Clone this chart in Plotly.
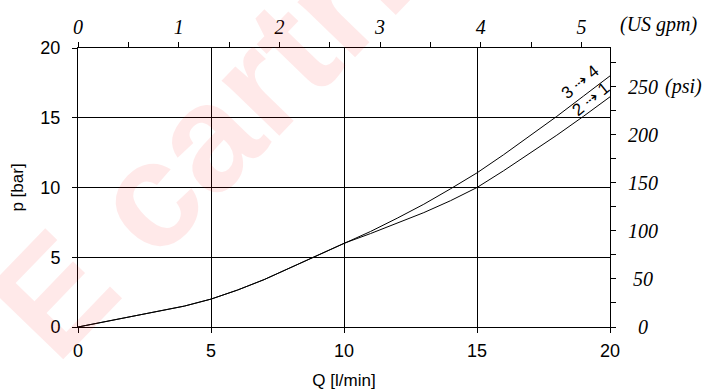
import plotly.graph_objects as go

# Flow Q [l/min] and pressure drop p [bar]
q_common = [0, 1, 2, 3, 4, 5, 6, 7, 8, 9, 10]
p_common = [0, 0.38, 0.75, 1.1, 1.5, 2.0, 2.65, 3.4, 4.25, 5.1, 6.0]

q_34 = [11, 12, 13, 14, 15, 16, 17, 18, 19, 20]
p_34 = [6.85, 7.8, 8.8, 9.9, 11.05, 12.35, 13.7, 15.1, 16.55, 18.0]

q_21 = [11, 12, 13, 14, 15, 16, 17, 18, 19, 20]
p_21 = [6.7, 7.45, 8.2, 9.05, 10.0, 11.2, 12.45, 13.75, 15.1, 16.5]

curve_labels = ["3 \u21e2 4", "2 \u21e2 1"]

x_ticks = [0, 5, 10, 15, 20]
y_ticks = [0, 5, 10, 15, 20]
gpm_ticks = [0, 1, 2, 3, 4, 5]
psi_ticks = [0, 50, 100, 150, 200, 250]

LPM_PER_GPM = 3.78541
PSI_PER_BAR = 14.5038

sans = "Liberation Sans, Arial, sans-serif"
serif = "Liberation Serif, Times New Roman, serif"

fig = go.Figure()
fig.add_trace(go.Scatter(x=q_common + q_34, y=p_common + p_34, mode="lines",
                         line=dict(color="black", width=1), showlegend=False, hoverinfo="skip"))
fig.add_trace(go.Scatter(x=q_common + q_21, y=p_common + p_21, mode="lines",
                         line=dict(color="black", width=1), showlegend=False, hoverinfo="skip"))
# dummy trace to activate secondary axes
fig.add_trace(go.Scatter(x=[0], y=[0], xaxis="x2", yaxis="y2", mode="markers",
                         marker=dict(opacity=0), showlegend=False, hoverinfo="skip"))

ann = []
# watermark
ann.append(dict(text="<b>E cartridges</b>", xref="paper", yref="paper", x=0.457, y=1.114,
                xanchor="center", yanchor="middle", textangle=-46, showarrow=False,
                font=dict(family=sans, size=151, color="rgba(255,0,0,0.085)")))
# curve labels
ann.append(dict(text=curve_labels[0], x=18.86, y=17.55, xref="x", yref="y", showarrow=False,
                textangle=-39, font=dict(family=sans, size=17, color="black")))
ann.append(dict(text=curve_labels[1], x=19.27, y=16.3, xref="x", yref="y", showarrow=False,
                textangle=-39, font=dict(family=sans, size=17, color="black")))
# right psi labels
for v in psi_ticks:
    ann.append(dict(text=str(v), x=(643 - 78) / 532, y=v, xref="paper", yref="y2", showarrow=False,
                    xanchor="center", yanchor="middle",
                    font=dict(family=serif, size=20, color="black", style="italic")))
ann.append(dict(text="(psi)", x=(663 - 78) / 532, y=250, xref="paper", yref="y2", showarrow=False,
                xanchor="left", yanchor="middle",
                font=dict(family=serif, size=20, color="black", style="italic")))
ann.append(dict(text="(US gpm)", x=(659 - 78) / 532, y=(326.7 - 24) / 279, xref="paper", yref="paper",
                showarrow=False, xanchor="center", yanchor="middle",
                font=dict(family=serif, size=20, color="black", style="italic")))

fig.update_layout(
    width=711, height=391,
    margin=dict(l=78, r=101, t=48, b=64),
    paper_bgcolor="white", plot_bgcolor="rgba(0,0,0,0)",
    annotations=ann,
    xaxis=dict(range=[0, 20], tickvals=x_ticks, ticks="outside", ticklen=5, tickcolor="black",
               showline=True, linecolor="black", linewidth=1, showgrid=True, gridcolor="black",
               gridwidth=1, zeroline=False, automargin=False, ticklabelstandoff=2,
               tickfont=dict(family=sans, size=18, color="black"),
               title=dict(text="Q [l/min]", font=dict(family=sans, size=17, color="black"), standoff=14)),
    yaxis=dict(range=[0, 20], tickvals=y_ticks, ticks="outside", ticklen=5, tickcolor="black",
               showline=True, linecolor="black", linewidth=1, showgrid=True, gridcolor="black",
               gridwidth=1, zeroline=False, automargin=False, ticklabelstandoff=8,
               tickfont=dict(family=sans, size=18, color="black"),
               title=dict(text="p [bar]", font=dict(family=sans, size=17, color="black"), standoff=12)),
    xaxis2=dict(overlaying="x", side="top", anchor="y", range=[0, 20 / LPM_PER_GPM],
                tickvals=gpm_ticks, ticks="outside", ticklen=5, tickcolor="black",
                minor=dict(dtick=0.5, tick0=0, ticks="outside", ticklen=5, tickcolor="black", showgrid=False),
                showline=True, linecolor="black", linewidth=1, showgrid=False, zeroline=False,
                automargin=False, ticklabelstandoff=0,
                tickfont=dict(family=serif, size=20, color="black", style="italic")),
    yaxis2=dict(overlaying="y", side="right", anchor="x", range=[0, 20 * PSI_PER_BAR],
                tickvals=psi_ticks, ticks="outside", ticklen=5, tickcolor="black",
                minor=dict(dtick=25, tick0=0, ticks="outside", ticklen=5, tickcolor="black", showgrid=False),
                showline=True, linecolor="black", linewidth=1, showgrid=False, zeroline=False,
                automargin=False, showticklabels=False),
)

fig.write_html("out.html", config={"displayModeBar": False},
               post_script="document.body.style.margin='0';document.body.style.overflow='hidden';")
